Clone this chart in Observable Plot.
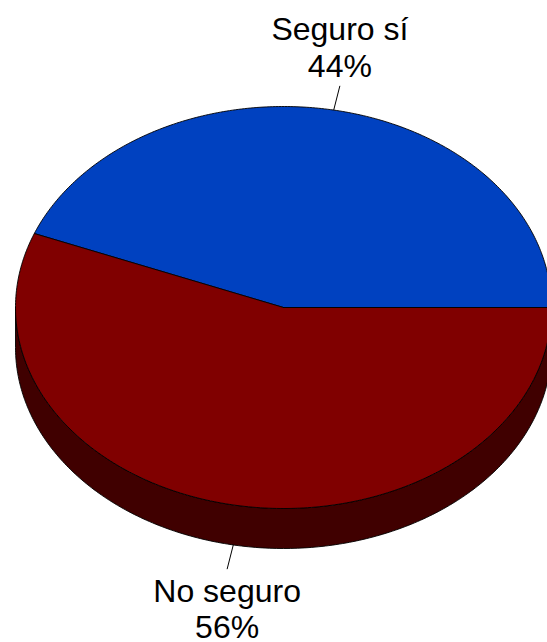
<!DOCTYPE html>
<html>
<head>
<meta charset="utf-8">
<script src="https://cdn.jsdelivr.net/npm/d3@7"></script>
<script src="https://cdn.jsdelivr.net/npm/@observablehq/plot@0.6"></script>
<style>
  html, body { margin: 0; padding: 0; background: #fff; }
  #chart svg { display: block; }
</style>
</head>
<body>
<div id="chart"></div>
<script>
// ---- data ----
const categories = ["Seguro sí", "No seguro"];
const values = [44, 56];
const topColors = ["#0041C0", "#800000"];
const sideColors = ["#002060", "#400000"];

// ---- geometry (layout only) ----
const W = 547, H = 642;
const CX = 283, CY = 307, RX = 268, RY = 201, DEPTH_PX = 40;
const depth = DEPTH_PX / RY;           // in y units (ry = 1)
const N = 240;

const total = d3.sum(values);
let acc = 0;
const slices = categories.map((c, i) => {
  const a0 = acc / total * 2 * Math.PI;
  acc += values[i];
  const a1 = acc / total * 2 * Math.PI;
  return {cat: c, value: values[i], a0, a1, i};
});

const arc = (a0, a1, dy = 0) => d3.range(N + 1).map(k => {
  const a = a0 + (a1 - a0) * k / N;
  return [Math.cos(a), Math.sin(a) + dy];
});

// top faces
const topPts = [];
for (const s of slices) {
  const pts = [[0, 0], ...arc(s.a0, s.a1), [0, 0]];
  pts.forEach(([x, y], k) => topPts.push({x, y, cat: s.cat, k}));
}
// visible side walls (front half: angles PI..2PI)
const sidePts = [];
for (const s of slices) {
  const b0 = Math.max(s.a0, Math.PI), b1 = Math.min(s.a1, 2 * Math.PI);
  if (b1 <= b0) continue;
  const upper = arc(b0, b1);
  const lower = arc(b0, b1, -depth).reverse();
  const pts = [...upper, ...lower, upper[0]];
  pts.forEach(([x, y], k) => sidePts.push({x, y, cat: s.cat, k}));
}

// labels and leaders
const LEADER_PX = 25, LABEL_OFF_PX = 39;
const labels = slices.map(s => {
  const m = (s.a0 + s.a1) / 2;
  const c = Math.cos(m), sn = Math.sin(m);
  const front = sn < 0;
  const x1 = c, y1 = sn - (front ? depth : 0);
  // outward direction in pixel space
  let px = c * RX, py = -sn * RY;
  const len = Math.hypot(px, py);
  px /= len; py /= len;
  const x2 = x1 + px * LEADER_PX / RX;
  const y2 = y1 - py * LEADER_PX / RY;
  const ty = y2 + (front ? -1 : 1) * LABEL_OFF_PX / RY;
  return {x1, y1, x2, y2, tx: x2, ty, text: `${s.cat}\n${s.value}%`};
});

const color = d3.scaleOrdinal(categories, topColors);
const sideColor = d3.scaleOrdinal(categories, sideColors);

const chart = Plot.plot({
  width: W,
  height: H,
  margin: 0,
  style: {background: "#fff", overflow: "hidden"},
  x: {domain: [-CX / RX, (W - CX) / RX], range: [0, W], axis: null},
  y: {domain: [-(H - CY) / RY, CY / RY], range: [H, 0], axis: null},
  marks: [
    ...slices.filter(s => sidePts.some(p => p.cat === s.cat)).map(s =>
      Plot.line(sidePts.filter(p => p.cat === s.cat), {
        x: "x", y: "y", fill: sideColor(s.cat), stroke: "#000", strokeWidth: 0.9,
        strokeLinejoin: "round"
      })
    ),
    ...slices.map(s =>
      Plot.line(topPts.filter(p => p.cat === s.cat), {
        x: "x", y: "y", fill: color(s.cat), stroke: "#000", strokeWidth: 0.9,
        strokeLinejoin: "round"
      })
    ),
    Plot.link(labels, {x1: "x1", y1: "y1", x2: "x2", y2: "y2", stroke: "#000", strokeWidth: 1}),
    Plot.text(labels, {
      x: "tx", y: "ty", text: "text",
      fontSize: 32, fontFamily: "'Liberation Sans', Arial, sans-serif",
      lineAnchor: "middle", lineHeight: 1.14, fill: "#000", textAnchor: "middle"
    })
  ]
});
document.getElementById("chart").appendChild(chart);
</script>
</body>
</html>
